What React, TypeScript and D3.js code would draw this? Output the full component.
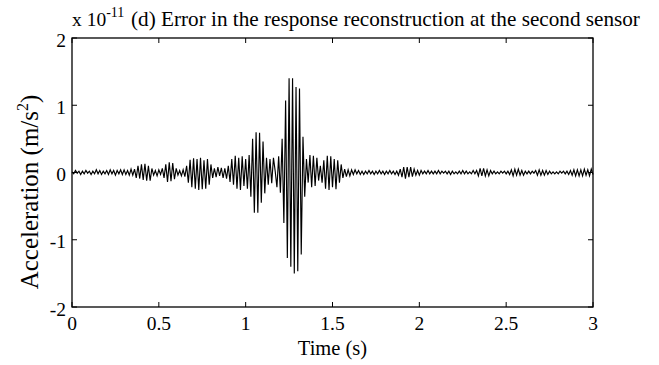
import React from "react";
import * as d3 from "d3";

// Axis ticks
const xTicks = [0, 0.5, 1, 1.5, 2, 2.5, 3];
const yTicks = [-2, -1, 0, 1, 2];

// Reconstruction error at the second sensor, in units of 1e-11 m/s^2,
// sampled every 0.01 s. One row per 0.1 s.
const sampleStep = 0.01;
const errorRows: number[][] = [
  [0.01, -0.02, 0.03, -0.01, 0.02, -0.03, 0.02, -0.02, 0.03, -0.01],
  [0.02, -0.03, 0.02, -0.02, 0.04, -0.02, 0.03, -0.03, 0.02, -0.02],
  [0.03, -0.03, 0.04, -0.02, 0.03, -0.04, 0.03, -0.02, 0.04, -0.03],
  [0.04, -0.03, 0.03, -0.04, 0.05, -0.04, 0.05, -0.08, 0.1, -0.09],
  [0.12, -0.11, 0.13, -0.12, 0.1, -0.12, 0.06, -0.04, 0.03, -0.05],
  [0.04, -0.03, 0.06, -0.08, 0.12, -0.14, 0.15, -0.13, 0.14, -0.1],
  [0.06, -0.04, 0.03, -0.05, 0.04, -0.06, 0.1, -0.15, 0.19, -0.22],
  [0.21, -0.24, 0.2, -0.26, 0.22, -0.25, 0.18, -0.24, 0.2, -0.18],
  [0.12, -0.08, 0.06, -0.07, 0.08, -0.05, 0.07, -0.08, 0.06, -0.09],
  [0.1, -0.14, 0.2, -0.18, 0.25, -0.24, 0.22, -0.26, 0.24, -0.2],
  [0.2, -0.24, 0.26, -0.36, 0.5, -0.6, 0.6, -0.6, 0.59, -0.45],
  [0.46, -0.31, 0.22, -0.18, 0.2, -0.16, 0.22, 0.02, -0.22, 0.24],
  [-0.3, 0.5, -0.75, 1.07, -1.27, 1.4, -1.4, 1.4, -1.5, 1.27],
  [-1.47, 1.25, -1.22, 0.53, -0.36, 0.2, -0.15, 0.26, -0.22, 0.25],
  [-0.2, 0.22, -0.12, 0.1, -0.15, 0.18, -0.24, 0.25, -0.26, 0.24],
  [-0.22, 0.2, -0.25, 0.18, -0.15, 0.12, -0.08, 0.05, -0.06, 0.04],
  [-0.05, 0.04, -0.03, 0.04, -0.02, 0.03, -0.03, 0.02, -0.03, 0.02],
  [-0.02, 0.03, -0.02, 0.02, -0.03, 0.02, -0.02, 0.03, -0.02, 0.02],
  [-0.03, 0.02, -0.02, 0.03, -0.02, 0.02, -0.03, 0.02, -0.04, 0.05],
  [-0.07, 0.08, -0.09, 0.08, -0.07, 0.08, -0.06, 0.05, -0.04, 0.03],
  [-0.04, 0.03, -0.02, 0.02, -0.02, 0.03, -0.02, 0.02, -0.02, 0.02],
  [-0.02, 0.03, -0.02, 0.02, -0.01, 0.02, -0.02, 0.02, -0.03, 0.02],
  [-0.02, 0.01, -0.02, 0.02, -0.02, 0.03, -0.02, 0.02, -0.02, 0.01],
  [-0.02, 0.03, -0.02, 0.03, -0.05, 0.06, -0.05, 0.06, -0.05, 0.04],
  [-0.05, 0.03, -0.02, 0.02, -0.02, 0.01, -0.02, 0.02, -0.01, 0.02],
  [-0.02, 0.02, -0.03, 0.04, -0.05, 0.05, -0.04, 0.05, -0.04, 0.03],
  [-0.04, 0.02, -0.02, 0.02, -0.02, 0.02, -0.01, 0.03, -0.04, 0.04],
  [-0.04, 0.03, -0.04, 0.03, -0.03, 0.02, -0.02, 0.01, -0.02, 0.01],
  [-0.02, 0.02, -0.01, 0.02, -0.02, 0.02, -0.03, 0.03, -0.04, 0.04],
  [-0.05, 0.04, -0.05, 0.04, -0.05, 0.05, -0.04, 0.04, -0.05, 0.05],
  [-0.03],
];
const errorValues = errorRows.flat();

const W = 659;
const H = 365;
const margin = { left: 72, right: 66, top: 38, bottom: 58 };
const FONT = "'Liberation Serif', 'Times New Roman', serif";

export default function App() {
  const x = d3
    .scaleLinear()
    .domain([0, 3])
    .range([margin.left, W - margin.right]);
  const y = d3
    .scaleLinear()
    .domain([-2, 2])
    .range([H - margin.bottom, margin.top]);

  const line = d3
    .line<number>()
    .x((_, i) => x(i * sampleStep))
    .y((v) => y(v));

  const x0 = x(0);
  const x1 = x(3);
  const y0 = y(-2);
  const y1 = y(2);
  const tick = 5;

  return (
    <svg
      width={W}
      height={H}
      style={{ position: "absolute", left: 0, top: 0, background: "#fff" }}
      fontFamily={FONT}
    >
      <rect x={0} y={0} width={W} height={H} fill="#fff" />
      <path d={line(errorValues) ?? ""} fill="none" stroke="#000" strokeWidth={1.15} />

      {/* ticks on all four sides, pointing inward */}
      {xTicks.map((t) => (
        <g key={`xt${t}`} stroke="#000" strokeWidth={1}>
          <line x1={x(t)} x2={x(t)} y1={y0} y2={y0 - tick} />
          <line x1={x(t)} x2={x(t)} y1={y1} y2={y1 + tick} />
        </g>
      ))}
      {yTicks.map((t) => (
        <g key={`yt${t}`} stroke="#000" strokeWidth={1}>
          <line x1={x0} x2={x0 + tick} y1={y(t)} y2={y(t)} />
          <line x1={x1} x2={x1 - tick} y1={y(t)} y2={y(t)} />
        </g>
      ))}
      <rect
        x={x0}
        y={y1}
        width={x1 - x0}
        height={y0 - y1}
        fill="none"
        stroke="#000"
        strokeWidth={1.3}
      />

      {/* tick labels */}
      {xTicks.map((t) => (
        <text key={`xl${t}`} x={x(t)} y={y0 + 23} fontSize={19.5} textAnchor="middle">
          {String(t)}
        </text>
      ))}
      {yTicks.map((t) => (
        <text key={`yl${t}`} x={x0 - 6} y={y(t) + 8.5} fontSize={19.5} textAnchor="end">
          {t < 0 ? `-${Math.abs(t)}` : String(t)}
        </text>
      ))}

      {/* exponent and title */}
      <text x={x0} y={26} fontSize={19.5}>
        x 10
        <tspan dy={-9} fontSize={14}>-11</tspan>
      </text>
      <text x={131} y={26} fontSize={21.2}>
        (d) Error in the response reconstruction at the second sensor
      </text>

      {/* axis labels */}
      <text x={(x0 + x1) / 2} y={355} fontSize={20.5} textAnchor="middle">
        Time (s)
      </text>
      <text
        transform={`translate(38, 192) rotate(-90)`}
        fontSize={25}
        textAnchor="middle"
      >
        Acceleration (m/s
        <tspan dy={-10} fontSize={16}>2</tspan>
        <tspan dy={10}>)</tspan>
      </text>
    </svg>
  );
}
